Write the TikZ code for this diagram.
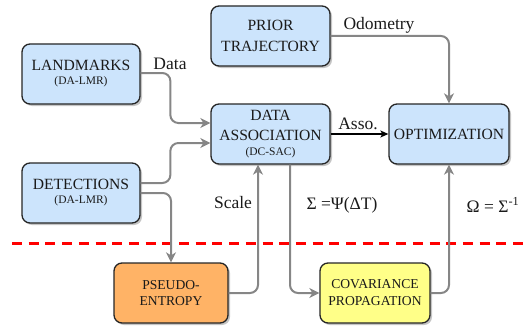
\documentclass[tikz,border=0pt]{standalone}
\usepackage{fontspec}
\setmainfont{Liberation Serif}
\newfontfamily\serif{Liberation Serif}
\usetikzlibrary{arrows.meta,shadows,calc}
\definecolor{boxblue}{HTML}{CCE4FC}
\definecolor{boxorange}{HTML}{FFB366}
\definecolor{boxyellow}{HTML}{FFFF88}
\definecolor{linegray}{HTML}{868686}
\definecolor{txt}{HTML}{1A1A1A}
\tikzset{
  box/.style={draw=black!85, line width=1.3pt, rounded corners=8pt, align=center,
    inner sep=0pt, text=txt,
    drop shadow={shadow xshift=2pt, shadow yshift=-2pt, fill=black!45, opacity=0.5},
    font=\serif\fontsize{15.6}{20}\selectfont},
  bluebox/.style={box, fill=boxblue},
  arr/.style={draw=linegray, line width=2pt, rounded corners=8pt,
    -{Stealth[length=10pt,width=10pt,inset=3pt]}},
  blackarr/.style={draw=black, line width=1.2pt, -{Stealth[length=8pt,width=7pt,inset=2pt]}},
  lbl/.style={font=\serif\fontsize{17.5}{20}\selectfont, text=txt, inner sep=0pt},
}
\newcommand{\subtxt}[1]{{\serif\fontsize{11.5}{13}\selectfont #1}}
\begin{document}
\begin{tikzpicture}[x=1pt,y=-1pt]
\useasboundingbox (0,0) rectangle (527,329);
% boxes
\node[bluebox, minimum width=118pt, minimum height=60pt] (lm) at (81,74)
  {LANDMARKS\\[-6pt]\subtxt{(DA-LMR)}};
\node[bluebox, minimum width=119pt, minimum height=60pt] (prior) at (270.5,36)
  {PRIOR\\[1pt]TRAJECTORY};
\node[bluebox, minimum width=119pt, minimum height=60pt] (da) at (270.5,134)
  {DATA\\ASSOCIATION\\[-5pt]\subtxt{(DC-SAC)}};
\node[bluebox, minimum width=120pt, minimum height=60pt] (opt) at (449,134)
  {OPTIMIZATION};
\node[bluebox, minimum width=118pt, minimum height=60pt] (det) at (81,193)
  {DETECTIONS\\[-6pt]\subtxt{(DA-LMR)}};
\node[box, fill=boxorange, minimum width=114pt, minimum height=60pt,
  font=\serif\fontsize{13.6}{16.5}\selectfont] (pe) at (171,293)
  {PSEUDO-\\ENTROPY};
\node[box, fill=boxyellow, minimum width=110pt, minimum height=60pt,
  font=\serif\fontsize{13.6}{17}\selectfont] (cov) at (375,293)
  {COVARIANCE\\PROPAGATION};
% separator
\draw[red, line width=3pt, dash pattern=on 10pt off 6.7pt] (12,243) -- (527,243);
% connectors
\draw[arr] ([yshift=1pt]lm.east) -| ([xshift=-40pt,yshift=11pt]da.west) -- ([yshift=11pt]da.west);
\draw[arr] ([yshift=10pt]det.east) -| ([xshift=-40pt,yshift=-9pt]da.west) -- ([yshift=-9pt]da.west);
\draw[arr] (det.east) -| (pe.north);
\draw[arr] (pe.east) -| ([xshift=-12.5pt]da.south);
\draw[arr] ([xshift=19.5pt]da.south) |- (cov.west);
\draw[arr] (cov.east) -| (opt.south);
\draw[arr] (prior.east) -| (opt.north);
\draw[blackarr] (da.east) -- (opt.west);
% labels
\node[lbl] (ldata) at (170,64) {Data};
\node[lbl] (lodo) at (379,25) {Odometry};
\node[lbl] (lasso) at (358,124) {Asso.};
\node[lbl] (lscale) at (233,203) {Scale};
\node[lbl] (lsigma) at (342,205) {Σ =Ψ(ΔT)};
\node[lbl] (lomega) at (493,205) {Ω = Σ\textsuperscript{-1}};
\end{tikzpicture}
\end{document}
